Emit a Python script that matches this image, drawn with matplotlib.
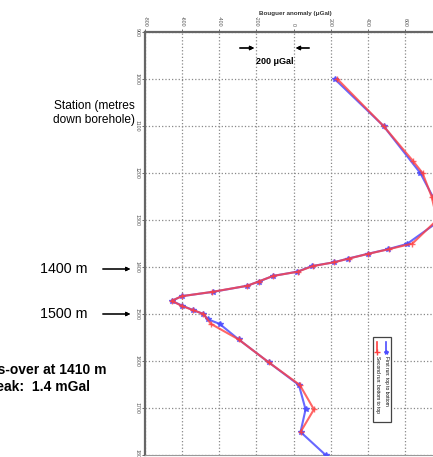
import matplotlib.pyplot as plt
from matplotlib.patches import Rectangle
from matplotlib.lines import Line2D

plt.rcParams['font.family'] = ['Liberation Sans', 'DejaVu Sans']

# first run: top to bottom
depth_run1 = [1000, 1100, 1200, 1295, 1351, 1362, 1372, 1382, 1390, 1398, 1410,
              1419, 1431, 1440, 1453, 1462, 1472, 1482, 1492, 1500, 1511, 1521,
              1554, 1603, 1651, 1703, 1751, 1800]
anom_run1 = [222, 485, 683, 810, 611, 510, 400, 295, 218, 100, 20,
             -110, -188, -250, -435, -601, -656, -601, -539, -485, -463, -398,
             -296, -133, 29, 65, 38, 173]

# second run: bottom to top
depth_run2 = [1000, 1100, 1175, 1200, 1250, 1300, 1350, 1362, 1372, 1382, 1390,
              1398, 1410, 1419, 1431, 1440, 1453, 1462, 1472, 1483, 1492, 1500,
              1521, 1554, 1603, 1651, 1703, 1751]
anom_run2 = [236, 485, 645, 695, 744, 773, 641, 515, 402, 299, 218,
             104, 23, -110, -188, -250, -439, -601, -656, -601, -539, -485,
             -445, -296, -133, 34, 110, 38]

x_ticks = [-800, -600, -400, -200, 0, 200, 400, 600]
y_ticks = [900, 1000, 1100, 1200, 1300, 1400, 1500, 1600, 1700, 1800]

W, H = 433, 457
fig = plt.figure(figsize=(W / 100, H / 100), dpi=100)
ax = fig.add_axes([145 / W, 1 - 455 / H, (442 - 145) / W, (455 - 32) / H])

ax.plot(anom_run1, depth_run1, color='#4d4dff', lw=1.5, marker='*', ms=4,
        alpha=0.85, zorder=3)
ax.plot(anom_run2, depth_run2, color='#ff4040', lw=1.5, marker='+', ms=5,
        mew=1.0, alpha=0.8, zorder=4)

ax.set_xlim(-800, 800)
ax.set_ylim(1800, 900)
ax.xaxis.tick_top()
ax.set_xticks(x_ticks)
ax.set_yticks(y_ticks)
ax.set_xticklabels([str(v) for v in x_ticks], rotation=-90, fontsize=3.8,
                   color='#555555')
ax.set_yticklabels([str(v) for v in y_ticks], rotation=-90, fontsize=3.8,
                   color='#665544', va='center')
ax.tick_params(length=2, width=0.6, pad=2, colors='#555555')
ax.grid(True, ls=':', color='#888888', lw=0.9)
for s in ['left', 'top']:
    ax.spines[s].set_color('#666666')
    ax.spines[s].set_linewidth(1.6)
for s in ['right', 'bottom']:
    ax.spines[s].set_color('#999999')
    ax.spines[s].set_linewidth(0.8)

# rotated legend
t = ax.transAxes
ax.add_patch(Rectangle((0.768, 0.078), 0.0606, 0.201, transform=t,
                       fc='white', ec='#444444', lw=0.9, zorder=5))
ax.add_line(Line2D([0.812, 0.812], [0.267, 0.243], transform=t, color='#4d4dff',
                   lw=1.2, marker='*', ms=3, markevery=[1], zorder=6))
ax.add_line(Line2D([0.782, 0.782], [0.267, 0.243], transform=t, color='#ff4040',
                   lw=1.2, marker='+', ms=5, markevery=[1], zorder=6))
ax.text(0.812, 0.235, 'First run: top to bottom', transform=t, rotation=-90,
        fontsize=3.5, ha='center', va='top', zorder=6)
ax.text(0.782, 0.235, 'Second run: bottom to top', transform=t, rotation=-90,
        fontsize=3.5, ha='center', va='top', zorder=6)

# annotations around the plot (figure pixels)
def fx(px):
    return px / W

def fy(py):
    return 1 - py / H

fig.text(fx(295), fy(14), 'Bouguer anomaly (\u03bcGal)', fontsize=4.5,
         fontweight='bold', ha='center', va='center', color='#333333')
fig.text(fx(275), fy(62), '200 \u03bcGal', fontsize=6.5, fontweight='bold',
         ha='center', va='center')
fig.add_artist(plt.annotate('', xy=(fx(257), fy(48)), xytext=(fx(237), fy(48)),
                            xycoords='figure fraction',
                            arrowprops=dict(arrowstyle='-|>', color='black',
                                            lw=0.9, mutation_scale=6)))
fig.add_artist(plt.annotate('', xy=(fx(293), fy(48)), xytext=(fx(312), fy(48)),
                            xycoords='figure fraction',
                            arrowprops=dict(arrowstyle='-|>', color='black',
                                            lw=0.9, mutation_scale=6)))

fig.text(fx(94), fy(113), 'Station (metres\ndown borehole)', fontsize=8.6,
         ha='center', va='center', linespacing=1.2)

for label, py in [('1400 m', 269), ('1500 m', 314)]:
    fig.text(fx(88), fy(py), label, fontsize=10.3, ha='right', va='center')
    fig.add_artist(plt.annotate('', xy=(fx(133), fy(py)), xytext=(fx(100), fy(py)),
                                xycoords='figure fraction',
                                arrowprops=dict(arrowstyle='-|>', color='black',
                                                lw=0.8, mutation_scale=6)))

fig.text(fx(107), fy(370), 'Cross-over at 1410 m', fontsize=10,
         fontweight='bold', ha='right', va='center')
fig.text(fx(90), fy(387), 'Peak:  1.4 mGal', fontsize=10,
         fontweight='bold', ha='right', va='center')

fig.savefig('out.png', dpi=100)
